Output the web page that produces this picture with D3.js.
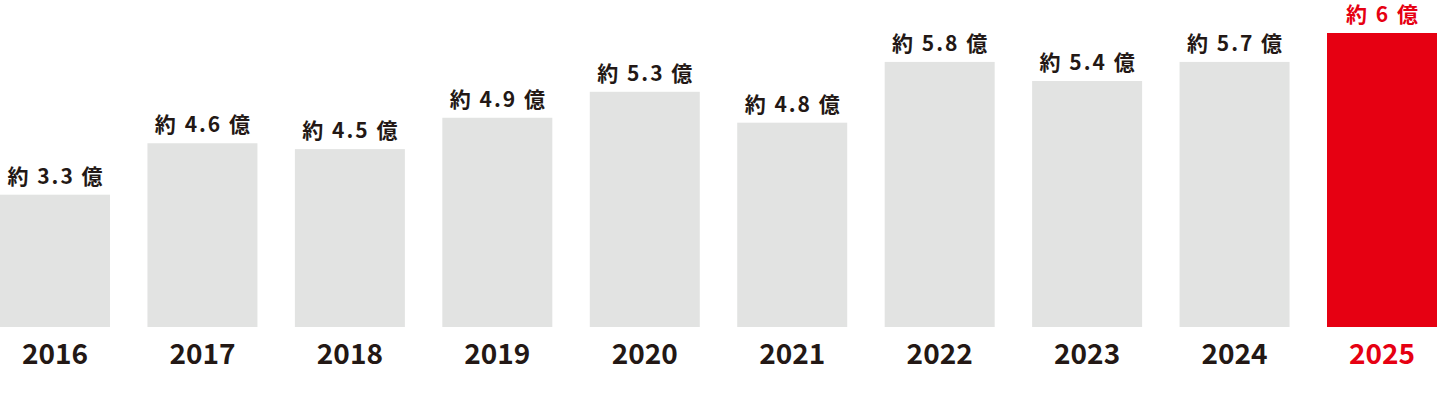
<!DOCTYPE html>
<html>
<head>
<meta charset="utf-8">
<script src="https://cdn.jsdelivr.net/npm/d3@7"></script>
<style>
  html, body { margin: 0; padding: 0; background: #fff; }
  svg { display: block; }
  text { font-family: "Noto Sans CJK JP", "Noto Sans", sans-serif; font-weight: 700; }
</style>
</head>
<body>
<svg width="1437" height="394"></svg>
<script>
// 年ごとのデータ
const years = ["2016", "2017", "2018", "2019", "2020", "2021", "2022", "2023", "2024", "2025"];
const labels = ["約 3.3 億", "約 4.6 億", "約 4.5 億", "約 4.9 億", "約 5.3 億", "約 4.8 億", "約 5.8 億", "約 5.4 億", "約 5.7 億", "約 6 億"];
// 棒の高さ（画像から読み取った相対値）
const barValues = [2.70, 3.75, 3.63, 4.27, 4.80, 4.17, 5.41, 5.02, 5.41, 6.0];

const data = years.map((y, i) => ({ year: y, label: labels[i], value: barValues[i] }));
const highlight = "2025";

const svg = d3.select("svg");
const width = 1437, baseY = 327, topY = 33;

const x = d3.scaleBand()
  .domain(years)
  .range([0, width])
  .paddingInner(0.254)
  .paddingOuter(0);

const y = d3.scaleLinear()
  .domain([0, 6])
  .range([baseY, topY]);

const color = d => d.year === highlight ? "#e60012" : "#e2e3e2";
const textColor = d => d.year === highlight ? "#e60012" : "#231815";

// 棒
svg.append("g")
  .selectAll("rect")
  .data(data)
  .enter().append("rect")
  .attr("x", d => x(d.year))
  .attr("y", d => y(d.value))
  .attr("width", x.bandwidth())
  .attr("height", d => baseY - y(d.value))
  .attr("fill", color);

// 値ラベル
svg.append("g")
  .selectAll("text")
  .data(data)
  .enter().append("text")
  .attr("x", d => x(d.year) + x.bandwidth() / 2 + 1)
  .attr("y", d => y(d.value) - 11)
  .attr("text-anchor", "middle")
  .attr("font-size", 21)
  .attr("letter-spacing", 2)
  .attr("fill", textColor)
  .text(d => d.label);

// 年ラベル（x軸）
const axis = svg.append("g")
  .attr("transform", `translate(0,${baseY})`)
  .call(d3.axisBottom(x).tickSize(0).tickPadding(0));
axis.select(".domain").remove();
axis.selectAll("text")
  .attr("dy", null)
  .attr("y", 37)
  .attr("font-size", 28)
  .attr("font-family", "\"Noto Sans CJK JP\", \"Noto Sans\", sans-serif")
  .attr("font-weight", 700)
  .attr("fill", d => d === highlight ? "#e60012" : "#231815");
</script>
</body>
</html>
